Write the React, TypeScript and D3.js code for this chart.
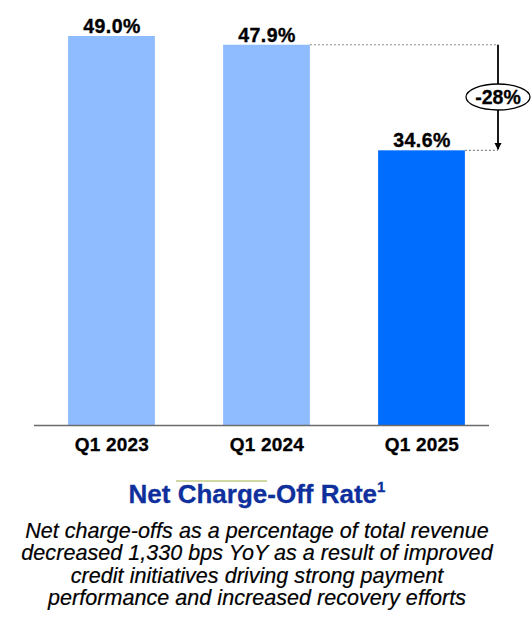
import React from "react";
import * as d3 from "d3";

const categories = ["Q1 2023", "Q1 2024", "Q1 2025"];
const values = [49.0, 47.9, 34.6];
const valueLabels = ["49.0%", "47.9%", "34.6%"];
const changeLabel = "-28%";
const title = "Net Charge-Off Rate";
const subtitleLines = [
  "Net charge-offs as a percentage of total revenue",
  "decreased 1,330 bps YoY as a result of improved",
  "credit initiatives driving strong payment",
  "performance and increased recovery efforts",
];

const W = 532;
const H = 626;

export default function App() {
  const x = d3
    .scaleBand<string>()
    .domain(categories)
    .range([34, 499])
    .paddingInner(0.44)
    .paddingOuter(0.22);
  const y = d3.scaleLinear().domain([0, 49]).range([425, 36]);
  const colors = ["#8fbcff", "#8fbcff", "#006dff"];
  const bw = x.bandwidth();
  const arrowX = 498;
  const yTop = y(values[1]);
  const yBot = y(values[2]);
  const midY = 97;
  const font = "Arial, 'Liberation Sans', Helvetica, sans-serif";

  return (
    <div style={{ position: "fixed", left: 0, top: 0, width: W, height: H, background: "#fff" }}>
      <svg width={W} height={H} style={{ display: "block" }} fontFamily={font}>
        <defs>
          <marker id="arr" viewBox="0 0 10 10" refX="9" refY="5" markerWidth="4" markerHeight="4" orient="auto">
            <path d="M0,0 L10,5 L0,10 z" fill="#000" />
          </marker>
        </defs>
        {categories.map((c, i) => (
          <g key={c}>
            <rect x={x(c)} y={y(values[i])} width={bw} height={y(0) - y(values[i])} fill={colors[i]} />
            <text
              x={(x(c) as number) + bw / 2 + 0.5}
              y={y(values[i]) - 3}
              textAnchor="middle"
              fontWeight="bold"
              fontSize={19.5}
              letterSpacing={0.4}
              stroke="#000"
              strokeWidth={0.35}
              fill="#000"
            >
              {valueLabels[i]}
            </text>
            <text
              x={(x(c) as number) + bw / 2 + 0.5}
              y={451}
              textAnchor="middle"
              fontWeight="bold"
              fontSize={19}
              letterSpacing={0.2}
              stroke="#000"
              strokeWidth={0.3}
              fill="#000"
            >
              {c}
            </text>
          </g>
        ))}
        <line x1={34} x2={489} y1={y(0) + 0.5} y2={y(0) + 0.5} stroke="#6b6b6b" strokeWidth={1.5} />

        {/* annotation */}
        <line x1={(x(categories[1]) as number) + bw} x2={arrowX} y1={yTop} y2={yTop} stroke="#888" strokeWidth={1.2} strokeDasharray="2,2" />
        <line x1={(x(categories[2]) as number) + bw} x2={arrowX} y1={yBot} y2={yBot} stroke="#888" strokeWidth={1.2} strokeDasharray="2,2" />
        <line x1={arrowX} x2={arrowX} y1={yTop} y2={midY - 13} stroke="#000" strokeWidth={1.8} />
        <line x1={arrowX} x2={arrowX} y1={midY + 13} y2={yBot - 1} stroke="#000" strokeWidth={1.8} markerEnd="url(#arr)" />
        <ellipse cx={arrowX} cy={midY} rx={32} ry={13} fill="#fff" stroke="#000" strokeWidth={1.3} />
        <text x={arrowX} y={midY + 7} textAnchor="middle" fontWeight="bold" fontSize={19.5} stroke="#000" strokeWidth={0.3} fill="#000">
          {changeLabel}
        </text>

        <line x1={176} x2={267} y1={481} y2={481} stroke="#a3b04a" strokeWidth={1} />
        <text x={257} y={503} textAnchor="middle" fontWeight="bold" fontSize={26} stroke="#0f2f9c" strokeWidth={0.3} fill="#0f2f9c">
          {title}
          <tspan fontSize={15} dy={-11}>1</tspan>
        </text>
        {subtitleLines.map((l, i) => (
          <text key={i} x={257} y={538 + i * 22.3} textAnchor="middle" fontStyle="italic" fontSize={21.5} letterSpacing={0.05} stroke="#000" strokeWidth={0.2} fill="#000">
            {l}
          </text>
        ))}
      </svg>
    </div>
  );
}
